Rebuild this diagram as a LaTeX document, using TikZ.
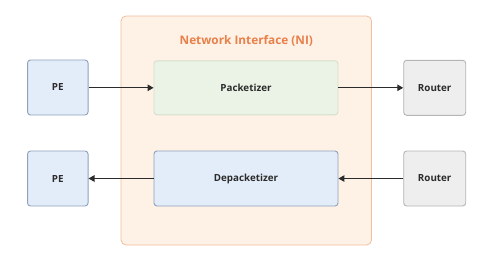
\documentclass[tikz,border=0pt]{standalone}
\usepackage{fontspec}
\setmainfont{Open Sans}
\usetikzlibrary{arrows.meta}
\definecolor{niFill}{HTML}{FEF1E6}
\definecolor{niDraw}{HTML}{F2BE9C}
\definecolor{niText}{HTML}{E8804A}
\definecolor{peFill}{HTML}{E3EDF9}
\definecolor{peDraw}{HTML}{8FA1BB}
\definecolor{pkFill}{HTML}{EBF3E6}
\definecolor{pkDraw}{HTML}{D5DFCC}
\definecolor{rtFill}{HTML}{EEEEEE}
\definecolor{rtDraw}{HTML}{B5B5B5}
\definecolor{txt}{HTML}{2B2B2B}
\begin{document}
\begin{tikzpicture}[x=1pt,y=-1pt,
  box/.style={draw, line width=0.9pt, rounded corners=3pt, inner sep=0pt, text=txt, font=\bfseries\fontsize{9.8}{11}\selectfont},
  pebox/.style={box, fill=peFill, draw=peDraw, minimum width=60.5pt, minimum height=55pt},
  rtbox/.style={box, fill=rtFill, draw=rtDraw, minimum width=62pt, minimum height=55pt},
  pkbox/.style={box, fill=pkFill, draw=pkDraw, minimum width=184pt, minimum height=54pt},
  dpbox/.style={box, fill=peFill, draw=peDraw, minimum width=184pt, minimum height=55pt},
  conn/.style={draw=txt, line width=1.1pt, -{Triangle[length=6pt,width=6.5pt]}}
]
\useasboundingbox (0,0) rectangle (495,257);
\node[draw=niDraw, fill=niFill, line width=0.8pt, rounded corners=5pt, minimum width=250.5pt, minimum height=229pt, inner sep=0pt] (ni) at (246.3,130.5) {};
\node[text=niText, font=\bfseries\fontsize{11.8}{13}\selectfont] (title) at (246.3,40.5) {Network Interface (NI)};
\node[pebox] (pe1) at (57.8,87.5) {PE};
\node[pebox] (pe2) at (57.8,178.5) {PE};
\node[pkbox] (pk) at (246,87.8) {Packetizer};
\node[dpbox] (dp) at (246,178.5) {Depacketizer};
\node[rtbox] (r1) at (434.7,87.8) {Router};
\node[rtbox] (r2) at (434.7,178.5) {Router};
\draw[conn] (pe1.east |- pk.west) -- (pk.west);
\draw[conn] (pk) -- (r1);
\draw[conn] (r2) -- (dp);
\draw[conn] (dp) -- (pe2);
\end{tikzpicture}
\end{document}
